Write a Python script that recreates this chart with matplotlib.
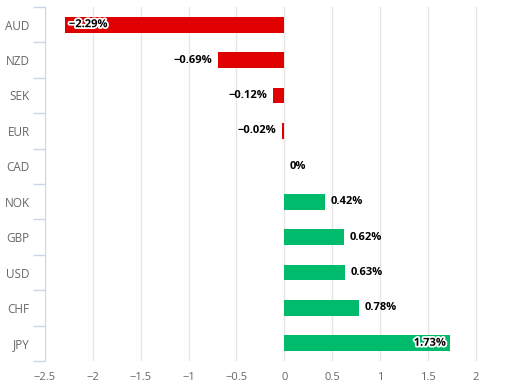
import matplotlib
matplotlib.use("Agg")
import matplotlib.pyplot as plt
import matplotlib.patheffects as pe
import numpy as np

currencies = ["AUD", "NZD", "SEK", "EUR", "CAD", "NOK", "GBP", "USD", "CHF", "JPY"]
changes = [-2.29, -0.69, -0.12, -0.02, 0.0, 0.42, 0.62, 0.63, 0.78, 1.73]
x_ticks = [-2.5, -2, -1.5, -1, -0.5, 0, 0.5, 1, 1.5, 2]
x_tick_labels = ["−2.5", "−2", "−1.5", "−1", "−0.5", "0", "0.5", "1", "1.5", "2"]

RED = "#e10000"
GREEN = "#00bb6c"

plt.rcParams['font.family'] = ['Open Sans', 'DejaVu Sans']

fig = plt.figure(figsize=(5.15, 3.9), dpi=100)
ax = fig.add_axes([45/515, 1-361/390, 1-45/515, 354/390])

y = np.arange(len(currencies))
colors = [RED if v < 0 else GREEN for v in changes]
ax.barh(y, changes, height=0.45, color=colors, zorder=3)

ax.set_xlim(-2.5, 2.41)
ax.set_ylim(len(currencies) - 0.5, -0.5)

ax.set_xticks(x_ticks)
ax.set_xticklabels(x_tick_labels, color="#666666", fontsize=8)
ax.set_yticks(y)
ax.set_yticklabels(currencies, color="#666666", fontsize=8.5)
ax.tick_params(axis='y', which='major', length=0, pad=11)
ax.tick_params(axis='x', which='major', length=0, pad=8)
ax.set_yticks(np.arange(-0.5, len(currencies)), minor=True)
ax.tick_params(axis='y', which='minor', length=9, color="#ccd6eb", width=1)

ax.grid(axis='x', color="#e6e6e6", linewidth=1, zorder=0)
for s in ["top", "right", "bottom"]:
    ax.spines[s].set_visible(False)
ax.spines["left"].set_color("#ccd6eb")
ax.spines["left"].set_zorder(4)

outline = [pe.withStroke(linewidth=2.5, foreground="white")]
for yi, v in zip(y, changes):
    if v == 0:
        txt = "0%"
    else:
        txt = f"{v:.2f}%".replace("-", "−")
    if v <= -2:
        ax.text(v + 0.04, yi, txt, ha='left', va='center', fontsize=8, fontweight='bold',
                color="#000000", path_effects=outline, zorder=5)
    elif v >= 1.5:
        ax.text(v - 0.04, yi, txt, ha='right', va='center', fontsize=8, fontweight='bold',
                color="#000000", path_effects=outline, zorder=5)
    elif v < 0:
        ax.text(v - 0.06, yi, txt, ha='right', va='center', fontsize=8, fontweight='bold',
                color="#000000", zorder=5)
    else:
        ax.text(v + 0.06, yi, txt, ha='left', va='center', fontsize=8, fontweight='bold',
                color="#000000", zorder=5)

fig.savefig("out.png", dpi=100)
